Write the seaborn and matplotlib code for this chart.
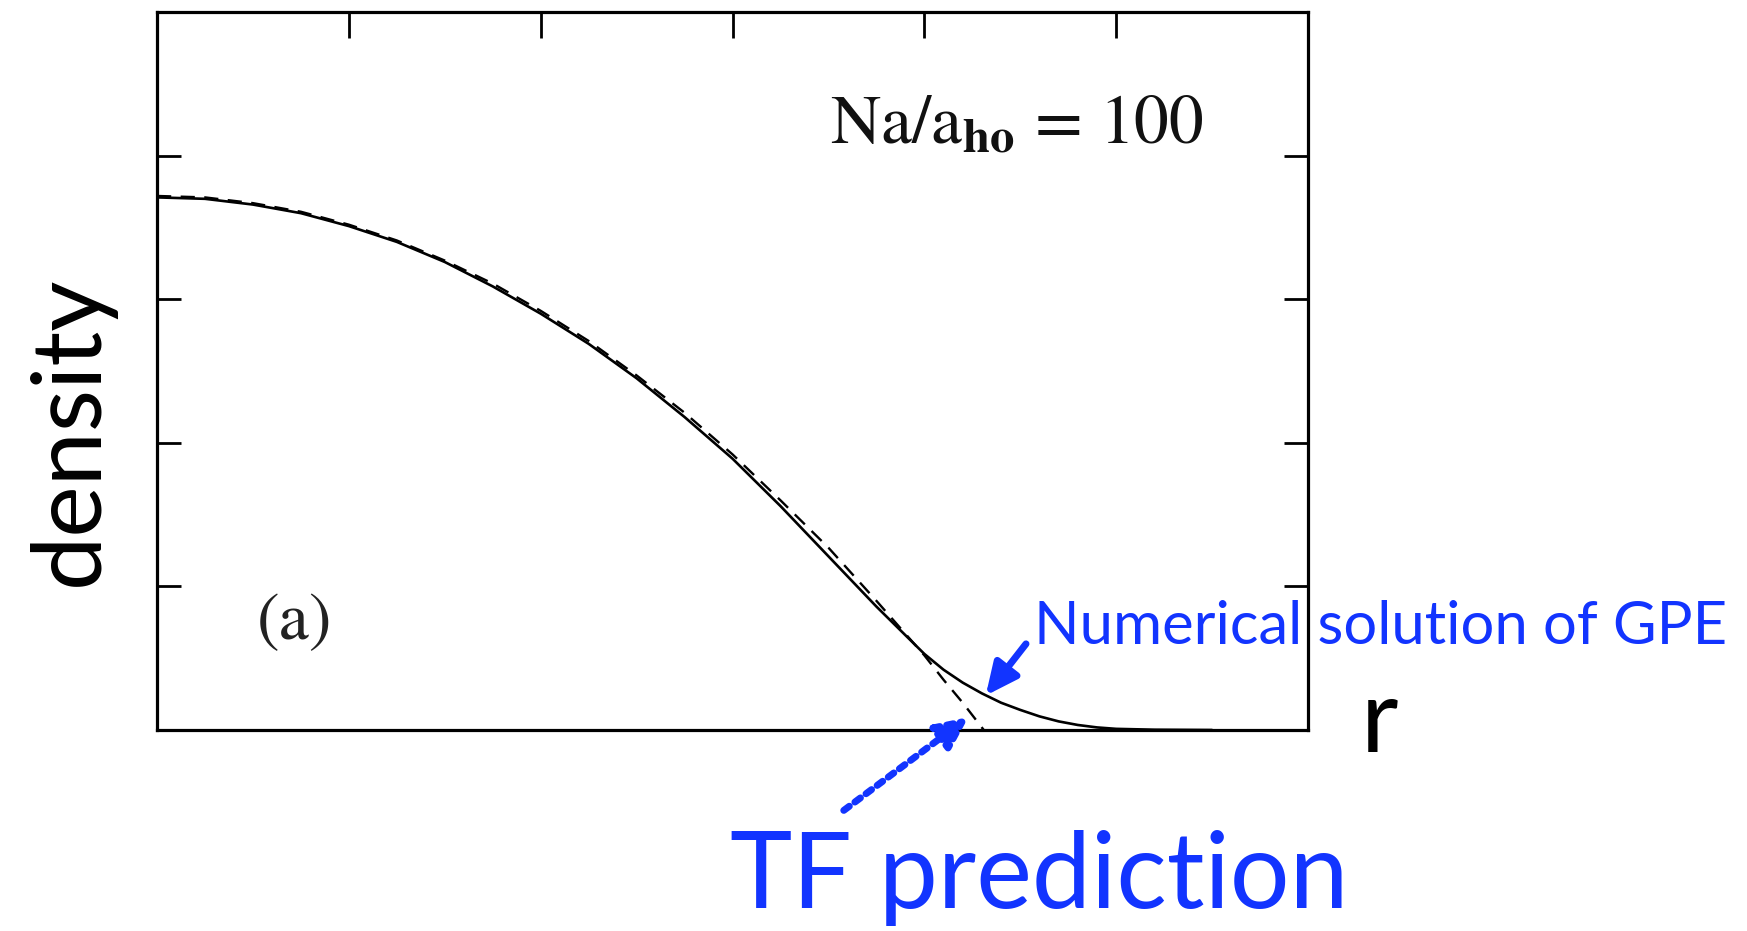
import numpy as np
import pandas as pd
import matplotlib
matplotlib.use("Agg")
import matplotlib.pyplot as plt
import seaborn as sns

# ---- data (r in units of a_ho, density arbitrary) ----
r_tf = [0.0, 0.25, 0.5, 0.75, 1.0, 1.25, 1.5, 1.75, 2.0, 2.25, 2.5, 2.75,
        3.0, 3.25, 3.5, 3.75, 4.0, 4.1, 4.2, 4.31]
n_tf = [3.72, 3.71, 3.67, 3.61, 3.52, 3.41, 3.27, 3.11, 2.92, 2.71, 2.47, 2.21,
        1.92, 1.60, 1.27, 0.90, 0.52, 0.35, 0.19, 0.0]

r_gpe = [0.0, 0.25, 0.5, 0.75, 1.0, 1.25, 1.5, 1.75, 2.0, 2.25, 2.5, 2.75,
         3.0, 3.25, 3.5, 3.75, 4.0, 4.1, 4.2, 4.3, 4.4, 4.5, 4.6, 4.7,
         4.8, 4.9, 5.0, 5.2, 5.5]
n_gpe = [3.71, 3.70, 3.66, 3.60, 3.51, 3.40, 3.26, 3.09, 2.90, 2.69, 2.45, 2.18,
         1.89, 1.56, 1.21, 0.86, 0.53, 0.42, 0.33, 0.255, 0.19, 0.14, 0.095, 0.06,
         0.035, 0.018, 0.008, 0.002, 0.0]

x_ticks = [1, 2, 3, 4, 5]
y_ticks = [1, 2, 3, 4]

BLUE = "#1234FF"

sns.set_theme(style="white")
plt.rcParams["font.family"] = ["Lato", "DejaVu Sans"]
plt.rcParams["mathtext.fontset"] = "stix"

fig = plt.figure(figsize=(17.47, 9.31), dpi=100)
ax = fig.add_axes([0.0899, 0.2159, 0.6588, 0.771])

df_gpe = pd.DataFrame({"r": r_gpe, "density": n_gpe})
df_tf = pd.DataFrame({"r": r_tf, "density": n_tf})

sns.lineplot(data=df_gpe, x="r", y="density", ax=ax, color="black",
             linewidth=1.9, estimator=None, sort=False)
sns.lineplot(data=df_tf, x="r", y="density", ax=ax, color="black",
             linewidth=1.7, linestyle=(0, (6, 4)), estimator=None, sort=False)

ax.set_xlim(0, 6)
ax.set_ylim(0, 5)
ax.set_xlabel("")
ax.set_ylabel("")
for s in ax.spines.values():
    s.set_visible(True)
    s.set_color("black")
    s.set_linewidth(2.3)

ax.set_xticks(x_ticks)
ax.set_yticks(y_ticks)
ax.tick_params(axis="x", which="both", direction="in", top=True, bottom=False,
               labeltop=False, labelbottom=False, length=19, width=2, color="black")
ax.tick_params(axis="y", which="both", direction="in", left=True, right=True,
               labelleft=False, labelright=False, length=17, width=2, color="black")

# inner texts (serif, scanned-figure style)
ax.text(3.51, 4.09, r"Na/a$_{\mathbf{ho}}$ = 100", fontsize=50,
        family="STIXGeneral", ha="left", va="baseline", color="#111111")
ax.text(0.52, 0.74, "(a)", fontsize=49, family="STIXGeneral",
        ha="left", va="center", color="#222222")

# axis labels as in the slide
fig.text(0.0406, 0.537, "density", rotation=90, fontsize=70,
         ha="center", va="center", color="black")
fig.text(0.779, 0.192, "r", fontsize=74, ha="left", va="baseline", color="black")

# annotations
ax.annotate("", xy=(4.32, 0.24), xytext=(4.53, 0.60),
            arrowprops=dict(arrowstyle="-|>,head_length=1.6,head_width=0.75",
                            color=BLUE, lw=5, shrinkA=0, shrinkB=0))
ax.text(4.57, 0.60, "Numerical solution of GPE", fontsize=43, color=BLUE,
        ha="left", va="baseline")

ax.annotate("", xy=(4.23, 0.09), xytext=(3.58, -0.56), annotation_clip=False,
            arrowprops=dict(arrowstyle="-|>,head_length=1.6,head_width=0.75",
                            color=BLUE, lw=5, linestyle=(0, (1.0, 1.0)),
                            shrinkA=0, shrinkB=0))
fig.text(0.418, 0.0247, "TF prediction", fontsize=76, color=BLUE,
         ha="left", va="baseline")

fig.savefig("out.png", dpi=100)
